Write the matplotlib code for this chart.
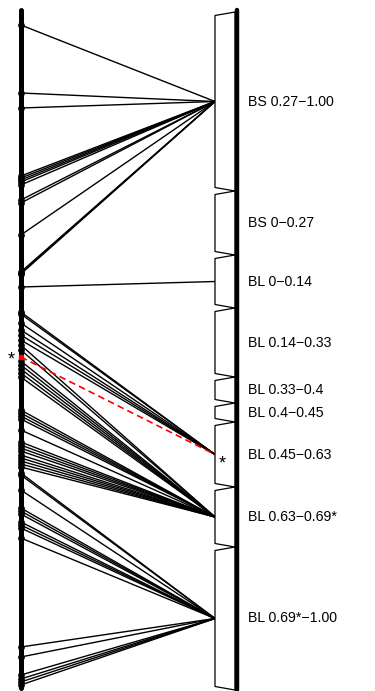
import matplotlib
matplotlib.use("Agg")
import matplotlib.pyplot as plt
from matplotlib.patches import Polygon

plt.rcParams["font.family"] = ["Liberation Sans", "DejaVu Sans"]

# Bins shown on the right-hand bar (top to bottom) and their edges on the ordering scale
bin_labels = ["BS 0.27\u22121.00", "BS 0\u22120.27", "BL 0\u22120.14", "BL 0.14\u22120.33",
              "BL 0.33\u22120.4", "BL 0.4\u22120.45", "BL 0.45\u22120.63",
              "BL 0.63\u22120.69*", "BL 0.69*\u22121.00"]
bin_edges = [2, 181, 245, 298, 367, 393, 412, 477, 537, 680]

# Sample positions along the left axis and the bin each one maps to
pos_bs_high = [15, 83, 98, 166, 168, 170, 172, 175, 190, 193, 225, 262, 263, 264]
pos_bl_000 = [277]
pos_bl_045 = [302, 304, 313, 320, 325, 330]
pos_bl_063 = [335, 340, 351, 355, 359, 363, 367, 400, 403, 406, 409, 420,
              432, 435, 438, 441, 445, 448, 451, 454, 457]
pos_bl_069 = [463, 465, 480, 498, 501, 504, 512, 515, 518, 528,
              637, 647, 665, 669, 672, 675]
highlight_pos = 347
highlight_bin = 6

sample_pos = pos_bs_high + pos_bl_000 + pos_bl_045 + pos_bl_063 + pos_bl_069
sample_bin = ([0] * len(pos_bs_high) + [2] * len(pos_bl_000) + [6] * len(pos_bl_045)
              + [7] * len(pos_bl_063) + [8] * len(pos_bl_069))

axis_top, axis_bottom = 0, 678

fig = plt.figure(figsize=(3.75, 6.91), dpi=100)
ax = fig.add_axes([0, 0, 1, 1])
ax.set_xlim(0, 375)
ax.set_ylim(681, -10)
ax.axis("off")

x_left = 20.8
x_bar_l, x_bar_r = 215, 235
x_right = 236.5
notch = 3.5

mids = [(bin_edges[i] + bin_edges[i + 1]) / 2 for i in range(len(bin_labels))]

# bar segments with V-shaped notches between bins
for i in range(len(bin_labels)):
    t, b = bin_edges[i], bin_edges[i + 1]
    ax.add_patch(Polygon([(x_bar_r, t), (x_bar_l, t + notch), (x_bar_l, b - notch), (x_bar_r, b)],
                         closed=True, facecolor="white", edgecolor="black", lw=0.9, zorder=2))
    ax.text(248, mids[i], bin_labels[i], fontsize=10.2, va="center", ha="left")

ax.plot([x_right, x_right], [bin_edges[0] - 2, bin_edges[-1]], color="black", lw=3.2,
        solid_capstyle="round", zorder=3)

# connecting lines from samples to bins
for p, b in zip(sample_pos, sample_bin):
    ax.plot([x_left, x_bar_l], [p, mids[b]], color="black", lw=1.0, zorder=1)

ax.plot([x_left, x_bar_l], [highlight_pos, mids[highlight_bin]], color="red", lw=1.2,
        ls=(0, (4, 2.5)), zorder=4)

# left ordering axis with sample markers
ax.plot([x_left, x_left], [axis_top, axis_bottom], color="black", lw=3.6,
        solid_capstyle="round", zorder=5)
ax.plot([x_left] * len(sample_pos), sample_pos, "o", color="black", ms=3.8, zorder=5)
ax.plot([x_left], [highlight_pos], "s", color="red", ms=3.2, zorder=6)

ax.text(11.5, highlight_pos + 7.5, "*", fontsize=13, ha="center", va="baseline", zorder=6)
ax.text(222.5, mids[highlight_bin] + 13.5, "*", fontsize=13, ha="center", va="baseline", zorder=6)

fig.savefig("out.png", dpi=100)
